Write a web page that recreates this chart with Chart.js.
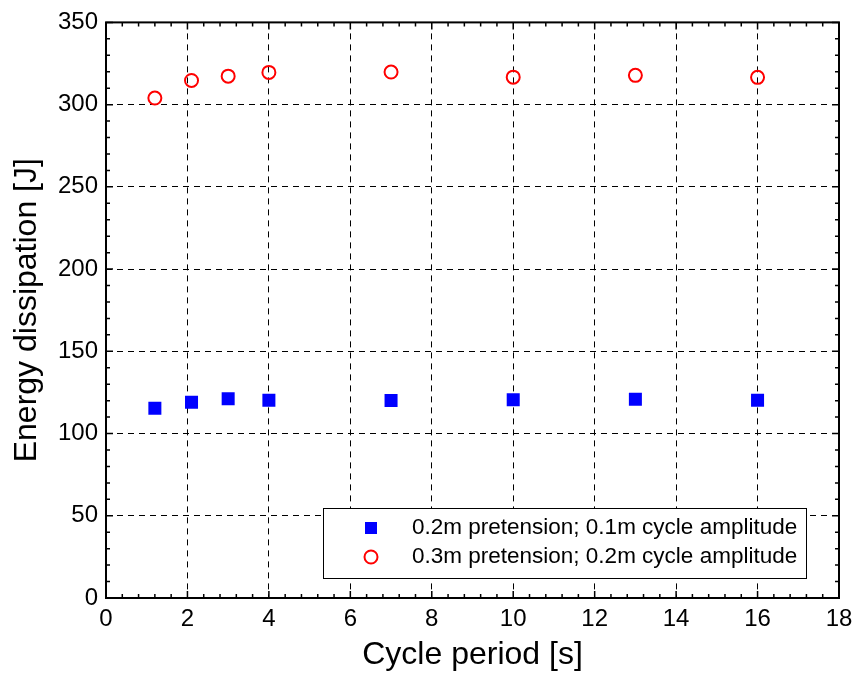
<!DOCTYPE html>
<html>
<head>
<meta charset="utf-8">
<script src="https://cdn.jsdelivr.net/npm/chart.js@4.4.0/dist/chart.umd.min.js"></script>
<style>
  html, body { margin: 0; padding: 0; background: #fff; }
  #wrap { width: 861px; height: 677px; }
</style>
</head>
<body>
<div id="wrap"><canvas id="energyChart" width="861" height="677"></canvas></div>
<script>
// cycle period [s]
const periods = [1.2, 2.1, 3.0, 4.0, 7.0, 10.0, 13.0, 16.0];
// energy dissipation [J]
const lowAmp = [115.4, 119.0, 121.1, 120.3, 120.1, 120.5, 120.9, 120.3];
const highAmp = [304.0, 314.7, 317.3, 319.6, 319.8, 316.7, 317.8, 316.6];
const seriesLabels = ["0.2m pretension; 0.1m cycle amplitude", "0.3m pretension; 0.2m cycle amplitude"];
const xTicks = [0, 2, 4, 6, 8, 10, 12, 14, 16, 18];
const yTicks = [0, 50, 100, 150, 200, 250, 300, 350];

const FONT = "'Liberation Sans', Arial, sans-serif";

function toPoints(xs, ys) {
  return xs.map((x, i) => ({ x: x, y: ys[i] }));
}

// box, inward ticks (major + minor) and legend, MATLAB style
const frame = {
  id: "frame",
  afterDatasetsDraw(chart) {
    const ctx = chart.ctx;
    const a = chart.chartArea;
    const xs = chart.scales.x, ys = chart.scales.y;
    ctx.save();
    ctx.strokeStyle = "#000";
    ctx.lineWidth = 1.5;
    ctx.setLineDash([]);
    ctx.beginPath();
    for (let v = 0; v <= 18.001; v += 0.4) {
      const px = xs.getPixelForValue(v);
      const major = Math.abs(v / 2 - Math.round(v / 2)) < 0.01;
      const len = major ? 7 : 4;
      ctx.moveTo(px, a.bottom); ctx.lineTo(px, a.bottom - len);
      ctx.moveTo(px, a.top); ctx.lineTo(px, a.top + len);
    }
    for (let v = 0; v <= 350; v += 10) {
      const py = ys.getPixelForValue(v);
      const len = v % 50 === 0 ? 7 : 4;
      ctx.moveTo(a.left, py); ctx.lineTo(a.left + len, py);
      ctx.moveTo(a.right, py); ctx.lineTo(a.right - len, py);
    }
    ctx.stroke();
    ctx.lineWidth = 2;
    ctx.strokeRect(a.left, a.top, a.right - a.left, a.bottom - a.top);

    // legend
    const lx = 323, ly = 508, lw = 483, lh = 70;
    ctx.fillStyle = "#fff";
    ctx.fillRect(lx, ly, lw, lh);
    ctx.lineWidth = 1;
    ctx.strokeRect(lx + 0.5, ly + 0.5, lw, lh);
    ctx.fillStyle = "#0000ff";
    ctx.fillRect(371 - 6, 528 - 6, 12, 12);
    ctx.strokeStyle = "#ff0000";
    ctx.lineWidth = 2;
    ctx.beginPath();
    ctx.arc(371, 557, 6.5, 0, Math.PI * 2);
    ctx.stroke();
    ctx.fillStyle = "#000";
    ctx.font = "22.5px " + FONT;
    ctx.textBaseline = "middle";
    ctx.textAlign = "left";
    ctx.fillText(seriesLabels[0], 412, 528);
    ctx.fillText(seriesLabels[1], 412, 557);
    ctx.restore();
  }
};

new Chart(document.getElementById("energyChart").getContext("2d"), {
  type: "scatter",
  data: {
    datasets: [
      {
        label: seriesLabels[0],
        data: toPoints(periods, lowAmp),
        pointStyle: "rect",
        pointRadius: 9.2,
        backgroundColor: "#0000ff",
        borderColor: "#0000ff",
        borderWidth: 0
      },
      {
        label: seriesLabels[1],
        data: toPoints(periods, highAmp),
        pointStyle: "circle",
        pointRadius: 6.5,
        backgroundColor: "rgba(0,0,0,0)",
        borderColor: "#ff0000",
        borderWidth: 2
      }
    ]
  },
  options: {
    responsive: false,
    animation: false,
    layout: { padding: { left: 0, right: 22, top: 20, bottom: 0 } },
    plugins: {
      legend: { display: false },
      tooltip: { enabled: false }
    },
    scales: {
      x: {
        type: "linear",
        min: 0,
        max: 18,
        afterBuildTicks: s => { s.ticks = xTicks.map(v => ({ value: v })); },
        afterFit: s => { s.height = 79; },
        ticks: { color: "#000", font: { family: FONT, size: 24 }, padding: 7, maxRotation: 0 },
        grid: { color: "#000", lineWidth: 1, drawTicks: false },
        border: { display: false, dash: [6, 5] },
        title: { display: true, text: "Cycle period [s]", color: "#000", font: { family: FONT, size: 32 }, padding: { top: 0, bottom: 3 } }
      },
      y: {
        type: "linear",
        min: 0,
        max: 350,
        afterBuildTicks: s => { s.ticks = yTicks.map(v => ({ value: v })); },
        afterFit: s => { s.width = 106; },
        ticks: { color: "#000", font: { family: FONT, size: 24 }, padding: 8 },
        grid: { color: "#000", lineWidth: 1, drawTicks: false },
        border: { display: false, dash: [6, 5] },
        title: { display: true, text: "Energy dissipation [J]", color: "#000", font: { family: FONT, size: 32 }, padding: { top: 8, bottom: 0 } }
      }
    }
  },
  plugins: [frame]
});
</script>
</body>
</html>
